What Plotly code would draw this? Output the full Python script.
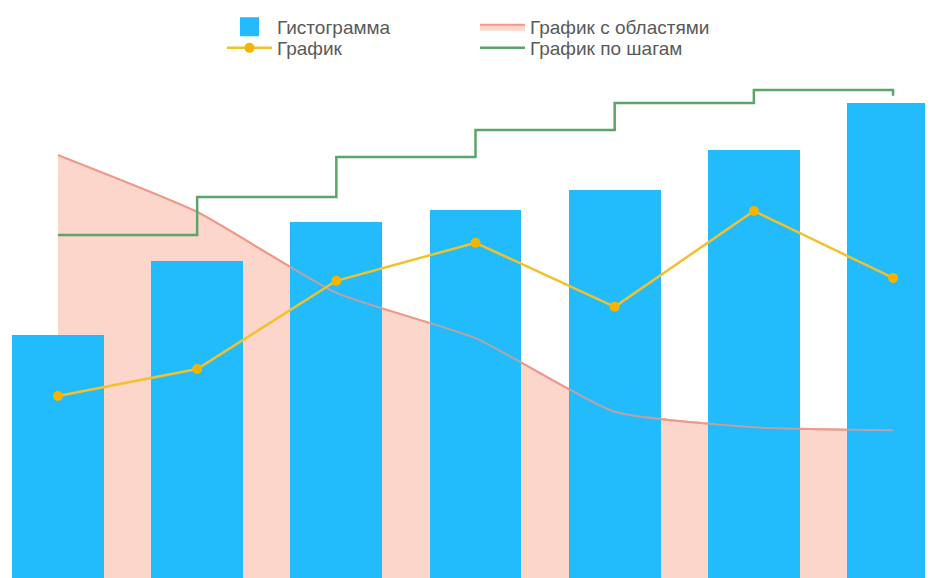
import plotly.graph_objects as go

# categories are unlabeled in the original, so plain indices
positions = [0, 1, 2, 3, 4, 5, 6]

bar_values = [50.4, 65.8, 73.9, 76.4, 80.6, 88.9, 98.6]
line_values = [37.8, 43.4, 61.7, 69.6, 56.3, 76.2, 62.3]
area_values = [87.8, 76.0, 59.2, 49.8, 34.5, 31.3, 30.7]
step_values = [71.2, 79.1, 87.4, 93.0, 98.6, 101.3, 100.1]

series_names = ["Гистограмма", "График с областями", "График", "График по шагам"]

BLUE = "#22BBFB"
SALMON_FILL = "#FDD6CB"
SALMON_LINE = "#EE9A8A"
YELLOW = "#F2C12E"
GREEN = "#5AA56A"

W, H = 941, 578
X_RANGE = [-0.359, 6.402]
Y_RANGE = [0, 118.34]

fig = go.Figure()

# area fill lives on the base axes so everything on the overlay axes sits on top of it
fig.add_trace(go.Scatter(
    x=positions, y=area_values, name=series_names[1],
    mode="lines", fill="tozeroy", fillcolor=SALMON_FILL,
    line=dict(color=SALMON_LINE, width=2, shape="spline", smoothing=0.5),
    legend="legend2",
))

fig.add_trace(go.Bar(
    x=positions, y=bar_values, name=series_names[0],
    marker=dict(color=BLUE, line=dict(width=0)), width=0.66,
    xaxis="x2", yaxis="y2", showlegend=False,
))
# legend-only entry so the square can be drawn larger than the bar symbol
fig.add_trace(go.Scatter(
    x=[None], y=[None], name=series_names[0], mode="markers",
    marker=dict(symbol="square", color=BLUE, size=16, line=dict(color=BLUE, width=3)),
    xaxis="x2", yaxis="y2", legend="legend",
))

# area outline again, over the bars and half transparent
fig.add_trace(go.Scatter(
    x=positions, y=area_values, mode="lines", showlegend=False,
    line=dict(color="rgba(238,154,138,0.75)", width=2, shape="spline", smoothing=0.5),
    xaxis="x2", yaxis="y2", hoverinfo="skip",
))

fig.add_trace(go.Scatter(
    x=positions, y=line_values, name=series_names[2],
    mode="lines+markers",
    line=dict(color=YELLOW, width=2.5),
    marker=dict(color="#F5B400", size=10),
    xaxis="x2", yaxis="y2", legend="legend3",
))

fig.add_trace(go.Scatter(
    x=positions, y=step_values, name=series_names[3],
    mode="lines", line=dict(color=GREEN, width=2.5, shape="hv"),
    xaxis="x2", yaxis="y2", legend="legend4",
))

legend_style = dict(
    orientation="v", yanchor="top", xanchor="left",
    bgcolor="rgba(0,0,0,0)", itemwidth=45,
    font=dict(family="Liberation Sans, Arial, sans-serif", size=19, color="#5a5a5a"),
)
col1, col2 = 214 / W, 467 / W
# keep legends inside the plot area so they don't push the top margin
row1, row2 = 1.0, 1 - 21 / 570

fig.update_layout(
    width=W, height=H,
    margin=dict(l=0, r=0, t=0, b=8),
    plot_bgcolor="white", paper_bgcolor="white",
    font=dict(family="Liberation Sans, Arial, sans-serif", size=19, color="#5a5a5a"),
    showlegend=True,
    legend=dict(x=col1, y=row1, **legend_style),
    legend2=dict(x=col2, y=row1, **legend_style),
    legend3=dict(x=col1, y=row2, **legend_style),
    legend4=dict(x=col2, y=row2, **legend_style),
    xaxis=dict(range=X_RANGE, visible=False, showgrid=False, zeroline=False),
    yaxis=dict(range=Y_RANGE, visible=False, showgrid=False, zeroline=False),
    xaxis2=dict(range=X_RANGE, overlaying="x", visible=False, showgrid=False, zeroline=False),
    yaxis2=dict(range=Y_RANGE, overlaying="y", visible=False, showgrid=False, zeroline=False),
    bargap=0,
)

fig.write_html("out.html")
